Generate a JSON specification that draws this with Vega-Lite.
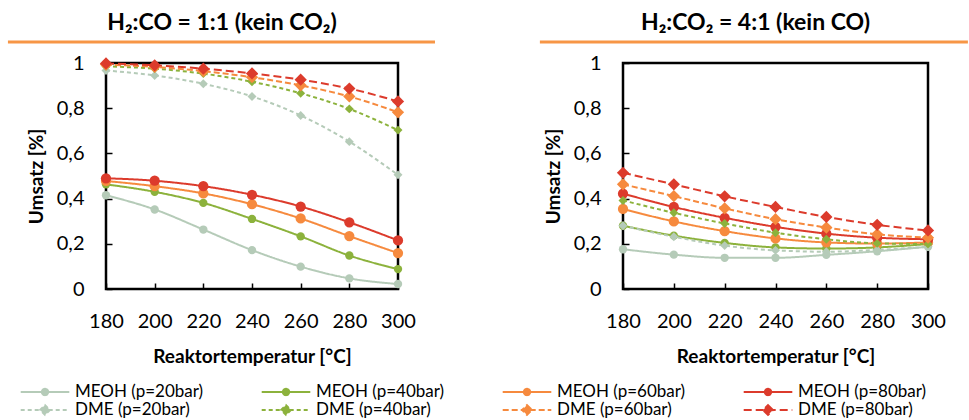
{
 "$schema": "https://vega.github.io/schema/vega-lite/v6.json",
 "background": "white",
 "padding": {"left": 5, "top": 11, "right": 5, "bottom": 0},
 "config": {
  "font": "Lato",
  "view": {"stroke": "black", "strokeWidth": 2.5},
  "axis": {"grid": false, "domain": false, "tickColor": "black", "tickWidth": 1.5, "tickSize": -6, "labelFont": "Lato", "labelFontSize": 20, "labelColor": "black", "titleFont": "Lato", "titleFontSize": 19, "titleFontWeight": "bold", "titleColor": "black", "labelFlush": false, "labelOverlap": false},
  "title": {"font": "Lato", "fontSize": 23, "fontWeight": "bold", "color": "black"},
  "legend": {"orient": "none", "legendX": -93, "legendY": 319, "direction": "horizontal", "columns": 4, "title": null, "labelFont": "Lato", "labelFontSize": 17, "labelColor": "black", "symbolSize": 324, "symbolOffset": 22, "labelOffset": 20, "columnPadding": 50, "rowPadding": 0},
  "concat": {"spacing": 99}
 },
 "data": {"values": [
  {"panel":"A","series":"MEOH (p=20bar)","T":180,"v":0.415},{"panel":"A","series":"MEOH (p=20bar)","T":200,"v":0.352},{"panel":"A","series":"MEOH (p=20bar)","T":220,"v":0.263},{"panel":"A","series":"MEOH (p=20bar)","T":240,"v":0.172},{"panel":"A","series":"MEOH (p=20bar)","T":260,"v":0.099},{"panel":"A","series":"MEOH (p=20bar)","T":280,"v":0.047},{"panel":"A","series":"MEOH (p=20bar)","T":300,"v":0.022},
  {"panel":"A","series":"MEOH (p=40bar)","T":180,"v":0.463},{"panel":"A","series":"MEOH (p=40bar)","T":200,"v":0.430},{"panel":"A","series":"MEOH (p=40bar)","T":220,"v":0.381},{"panel":"A","series":"MEOH (p=40bar)","T":240,"v":0.310},{"panel":"A","series":"MEOH (p=40bar)","T":260,"v":0.233},{"panel":"A","series":"MEOH (p=40bar)","T":280,"v":0.148},{"panel":"A","series":"MEOH (p=40bar)","T":300,"v":0.088},
  {"panel":"A","series":"MEOH (p=60bar)","T":180,"v":0.478},{"panel":"A","series":"MEOH (p=60bar)","T":200,"v":0.455},{"panel":"A","series":"MEOH (p=60bar)","T":220,"v":0.423},{"panel":"A","series":"MEOH (p=60bar)","T":240,"v":0.375},{"panel":"A","series":"MEOH (p=60bar)","T":260,"v":0.312},{"panel":"A","series":"MEOH (p=60bar)","T":280,"v":0.234},{"panel":"A","series":"MEOH (p=60bar)","T":300,"v":0.159},
  {"panel":"A","series":"MEOH (p=80bar)","T":180,"v":0.490},{"panel":"A","series":"MEOH (p=80bar)","T":200,"v":0.479},{"panel":"A","series":"MEOH (p=80bar)","T":220,"v":0.455},{"panel":"A","series":"MEOH (p=80bar)","T":240,"v":0.417},{"panel":"A","series":"MEOH (p=80bar)","T":260,"v":0.365},{"panel":"A","series":"MEOH (p=80bar)","T":280,"v":0.295},{"panel":"A","series":"MEOH (p=80bar)","T":300,"v":0.215},
  {"panel":"A","series":"DME (p=20bar)","T":180,"v":0.967},{"panel":"A","series":"DME (p=20bar)","T":200,"v":0.945},{"panel":"A","series":"DME (p=20bar)","T":220,"v":0.908},{"panel":"A","series":"DME (p=20bar)","T":240,"v":0.852},{"panel":"A","series":"DME (p=20bar)","T":260,"v":0.768},{"panel":"A","series":"DME (p=20bar)","T":280,"v":0.652},{"panel":"A","series":"DME (p=20bar)","T":300,"v":0.505},
  {"panel":"A","series":"DME (p=40bar)","T":180,"v":0.985},{"panel":"A","series":"DME (p=40bar)","T":200,"v":0.975},{"panel":"A","series":"DME (p=40bar)","T":220,"v":0.953},{"panel":"A","series":"DME (p=40bar)","T":240,"v":0.917},{"panel":"A","series":"DME (p=40bar)","T":260,"v":0.866},{"panel":"A","series":"DME (p=40bar)","T":280,"v":0.797},{"panel":"A","series":"DME (p=40bar)","T":300,"v":0.703},
  {"panel":"A","series":"DME (p=60bar)","T":180,"v":0.993},{"panel":"A","series":"DME (p=60bar)","T":200,"v":0.983},{"panel":"A","series":"DME (p=60bar)","T":220,"v":0.964},{"panel":"A","series":"DME (p=60bar)","T":240,"v":0.937},{"panel":"A","series":"DME (p=60bar)","T":260,"v":0.901},{"panel":"A","series":"DME (p=60bar)","T":280,"v":0.852},{"panel":"A","series":"DME (p=60bar)","T":300,"v":0.782},
  {"panel":"A","series":"DME (p=80bar)","T":180,"v":0.998},{"panel":"A","series":"DME (p=80bar)","T":200,"v":0.990},{"panel":"A","series":"DME (p=80bar)","T":220,"v":0.975},{"panel":"A","series":"DME (p=80bar)","T":240,"v":0.954},{"panel":"A","series":"DME (p=80bar)","T":260,"v":0.926},{"panel":"A","series":"DME (p=80bar)","T":280,"v":0.887},{"panel":"A","series":"DME (p=80bar)","T":300,"v":0.830},
  {"panel":"B","series":"MEOH (p=20bar)","T":180,"v":0.176},{"panel":"B","series":"MEOH (p=20bar)","T":200,"v":0.152},{"panel":"B","series":"MEOH (p=20bar)","T":220,"v":0.138},{"panel":"B","series":"MEOH (p=20bar)","T":240,"v":0.138},{"panel":"B","series":"MEOH (p=20bar)","T":260,"v":0.151},{"panel":"B","series":"MEOH (p=20bar)","T":280,"v":0.167},{"panel":"B","series":"MEOH (p=20bar)","T":300,"v":0.187},
  {"panel":"B","series":"MEOH (p=40bar)","T":180,"v":0.280},{"panel":"B","series":"MEOH (p=40bar)","T":200,"v":0.236},{"panel":"B","series":"MEOH (p=40bar)","T":220,"v":0.204},{"panel":"B","series":"MEOH (p=40bar)","T":240,"v":0.184},{"panel":"B","series":"MEOH (p=40bar)","T":260,"v":0.179},{"panel":"B","series":"MEOH (p=40bar)","T":280,"v":0.184},{"panel":"B","series":"MEOH (p=40bar)","T":300,"v":0.199},
  {"panel":"B","series":"MEOH (p=60bar)","T":180,"v":0.354},{"panel":"B","series":"MEOH (p=60bar)","T":200,"v":0.299},{"panel":"B","series":"MEOH (p=60bar)","T":220,"v":0.256},{"panel":"B","series":"MEOH (p=60bar)","T":240,"v":0.224},{"panel":"B","series":"MEOH (p=60bar)","T":260,"v":0.206},{"panel":"B","series":"MEOH (p=60bar)","T":280,"v":0.201},{"panel":"B","series":"MEOH (p=60bar)","T":300,"v":0.206},
  {"panel":"B","series":"MEOH (p=80bar)","T":180,"v":0.422},{"panel":"B","series":"MEOH (p=80bar)","T":200,"v":0.363},{"panel":"B","series":"MEOH (p=80bar)","T":220,"v":0.315},{"panel":"B","series":"MEOH (p=80bar)","T":240,"v":0.275},{"panel":"B","series":"MEOH (p=80bar)","T":260,"v":0.245},{"panel":"B","series":"MEOH (p=80bar)","T":280,"v":0.227},{"panel":"B","series":"MEOH (p=80bar)","T":300,"v":0.220},
  {"panel":"B","series":"DME (p=20bar)","T":180,"v":0.280},{"panel":"B","series":"DME (p=20bar)","T":200,"v":0.231},{"panel":"B","series":"DME (p=20bar)","T":220,"v":0.192},{"panel":"B","series":"DME (p=20bar)","T":240,"v":0.171},{"panel":"B","series":"DME (p=20bar)","T":260,"v":0.165},{"panel":"B","series":"DME (p=20bar)","T":280,"v":0.173},{"panel":"B","series":"DME (p=20bar)","T":300,"v":0.187},
  {"panel":"B","series":"DME (p=40bar)","T":180,"v":0.392},{"panel":"B","series":"DME (p=40bar)","T":200,"v":0.337},{"panel":"B","series":"DME (p=40bar)","T":220,"v":0.290},{"panel":"B","series":"DME (p=40bar)","T":240,"v":0.249},{"panel":"B","series":"DME (p=40bar)","T":260,"v":0.220},{"panel":"B","series":"DME (p=40bar)","T":280,"v":0.202},{"panel":"B","series":"DME (p=40bar)","T":300,"v":0.199},
  {"panel":"B","series":"DME (p=60bar)","T":180,"v":0.463},{"panel":"B","series":"DME (p=60bar)","T":200,"v":0.411},{"panel":"B","series":"DME (p=60bar)","T":220,"v":0.357},{"panel":"B","series":"DME (p=60bar)","T":240,"v":0.309},{"panel":"B","series":"DME (p=60bar)","T":260,"v":0.272},{"panel":"B","series":"DME (p=60bar)","T":280,"v":0.242},{"panel":"B","series":"DME (p=60bar)","T":300,"v":0.227},
  {"panel":"B","series":"DME (p=80bar)","T":180,"v":0.514},{"panel":"B","series":"DME (p=80bar)","T":200,"v":0.463},{"panel":"B","series":"DME (p=80bar)","T":220,"v":0.410},{"panel":"B","series":"DME (p=80bar)","T":240,"v":0.363},{"panel":"B","series":"DME (p=80bar)","T":260,"v":0.319},{"panel":"B","series":"DME (p=80bar)","T":280,"v":0.284},{"panel":"B","series":"DME (p=80bar)","T":300,"v":0.259}
 ]},
 "hconcat": [
  {
   "width": 292, "height": 226,
   "title": {"text": "H₂:CO = 1:1 (kein CO₂)", "dx": -30, "offset": 5},
   "layer": [
    {
     "transform": [{"filter": "datum.panel == 'A'"}],
     "mark": {"type": "line", "interpolate": "monotone"},
     "encoding": {
      "x": {"field": "T", "type": "quantitative", "scale": {"domain": [180, 300], "nice": false, "zero": false}, "axis": {"title": "Reaktortemperatur [°C]", "values": [180,185,190,195,200,205,210,215,220,225,230,235,240,245,250,255,260,265,270,275,280,285,290,295,300], "labelExpr": "datum.value % 20 == 0 ? datum.label : ''", "labelPadding": 28, "titlePadding": 16}},
      "y": {"field": "v", "type": "quantitative", "scale": {"domain": [0, 1], "nice": false}, "axis": {"title": "Umsatz [%]", "values": [0,0.05,0.1,0.15,0.2,0.25,0.3,0.35,0.4,0.45,0.5,0.55,0.6,0.65,0.7,0.75,0.8,0.85,0.9,0.95,1], "labelExpr": "abs(datum.value*5 - round(datum.value*5)) < 0.001 ? replace(format(datum.value, '.1~f'), '.', ',') : ''", "labelPadding": 28, "titlePadding": 10}},
      "stroke": {"field": "series", "type": "nominal",
       "scale": {"domain": ["MEOH (p=20bar)","MEOH (p=40bar)","MEOH (p=60bar)","MEOH (p=80bar)","DME (p=20bar)","DME (p=40bar)","DME (p=60bar)","DME (p=80bar)"], "range": ["#B5CBB8","#8CB23C","#F68A3E","#DC3B2C","#B5CBB8","#8CB23C","#F68A3E","#DC3B2C"]},
       "legend": {"symbolType": {"expr": "indexof(datum.value, 'DME') == 0 ? 'M-2.7,0H2.7M0,-0.55L0.55,0L0,0.55L-0.55,0Z' : 'M-2.7,0H2.7M-0.35,0A0.35,0.35,0,1,1,0.35,0A0.35,0.35,0,1,1,-0.35,0Z'"}}},
      "strokeDash": {"field": "series", "type": "nominal", "scale": {"domain": ["MEOH (p=20bar)","MEOH (p=40bar)","MEOH (p=60bar)","MEOH (p=80bar)","DME (p=20bar)","DME (p=40bar)","DME (p=60bar)","DME (p=80bar)"], "range": [[1,0],[1,0],[1,0],[1,0],[4,3],[4,3],[6,3],[8,4]]}},
      "strokeWidth": {"field": "series", "type": "ordinal", "scale": {"domain": ["MEOH (p=20bar)","MEOH (p=40bar)","MEOH (p=60bar)","MEOH (p=80bar)","DME (p=20bar)","DME (p=40bar)","DME (p=60bar)","DME (p=80bar)"], "range": [2,2,3,4,2,2,3,4]}}
     }
    },
    {
     "transform": [{"filter": "datum.panel == 'A' && indexof(datum.series, 'MEOH') == 0 && (indexof(datum.series, '20bar') > 0 || indexof(datum.series, '40bar') > 0)"}],
     "mark": {"type": "point", "filled": true, "opacity": 1, "shape": "circle", "size": 70},
     "encoding": {
      "x": {"field": "T", "type": "quantitative"},
      "y": {"field": "v", "type": "quantitative"},
      "fill": {"field": "series", "type": "nominal", "scale": {"domain": ["MEOH (p=20bar)","MEOH (p=40bar)","MEOH (p=60bar)","MEOH (p=80bar)","DME (p=20bar)","DME (p=40bar)","DME (p=60bar)","DME (p=80bar)"], "range": ["#B5CBB8","#8CB23C","#F68A3E","#DC3B2C","#B5CBB8","#8CB23C","#F68A3E","#DC3B2C"]}}
     }
    },
    {
     "transform": [{"filter": "datum.panel == 'A' && indexof(datum.series, 'MEOH') == 0 && (indexof(datum.series, '60bar') > 0 || indexof(datum.series, '80bar') > 0)"}],
     "mark": {"type": "point", "filled": true, "opacity": 1, "shape": "circle", "size": 105},
     "encoding": {"x": {"field": "T", "type": "quantitative"}, "y": {"field": "v", "type": "quantitative"}, "fill": {"field": "series", "type": "nominal"}}
    },
    {
     "transform": [{"filter": "datum.panel == 'A' && indexof(datum.series, 'DME') == 0 && (indexof(datum.series, '20bar') > 0 || indexof(datum.series, '40bar') > 0)"}],
     "mark": {"type": "point", "filled": true, "opacity": 1, "shape": "diamond", "size": 80},
     "encoding": {"x": {"field": "T", "type": "quantitative"}, "y": {"field": "v", "type": "quantitative"}, "fill": {"field": "series", "type": "nominal"}}
    },
    {
     "transform": [{"filter": "datum.panel == 'A' && indexof(datum.series, 'DME') == 0 && (indexof(datum.series, '60bar') > 0 || indexof(datum.series, '80bar') > 0)"}],
     "mark": {"type": "point", "filled": true, "opacity": 1, "shape": "diamond", "size": 150},
     "encoding": {"x": {"field": "T", "type": "quantitative"}, "y": {"field": "v", "type": "quantitative"}, "fill": {"field": "series", "type": "nominal"}}
    },
    {
     "data": {"values": [{}]},
     "mark": {"type": "rule", "color": "#F79646", "strokeWidth": 3, "clip": false},
     "encoding": {"x": {"datum": 139.7, "type": "quantitative"}, "x2": {"datum": 315.2}, "y": {"datum": 1.093, "type": "quantitative"}}
    }
   ]
  },
  {
   "width": 305, "height": 226,
   "title": {"text": "H₂:CO₂ = 4:1 (kein CO)", "dx": -20, "offset": 5},
   "layer": [
    {
     "transform": [{"filter": "datum.panel == 'B'"}],
     "mark": {"type": "line", "interpolate": "monotone"},
     "encoding": {
      "x": {"field": "T", "type": "quantitative", "scale": {"domain": [180, 300], "nice": false, "zero": false}, "axis": {"title": "Reaktortemperatur [°C]", "values": [180,185,190,195,200,205,210,215,220,225,230,235,240,245,250,255,260,265,270,275,280,285,290,295,300], "labelExpr": "datum.value % 20 == 0 ? datum.label : ''", "labelPadding": 28, "titlePadding": 16}},
      "y": {"field": "v", "type": "quantitative", "scale": {"domain": [0, 1], "nice": false}, "axis": {"title": "Umsatz [%]", "values": [0,0.05,0.1,0.15,0.2,0.25,0.3,0.35,0.4,0.45,0.5,0.55,0.6,0.65,0.7,0.75,0.8,0.85,0.9,0.95,1], "labelExpr": "abs(datum.value*5 - round(datum.value*5)) < 0.001 ? replace(format(datum.value, '.1~f'), '.', ',') : ''", "labelPadding": 28, "titlePadding": 10}},
      "stroke": {"field": "series", "type": "nominal"},
      "strokeDash": {"field": "series", "type": "nominal"},
      "strokeWidth": {"field": "series", "type": "ordinal"}
     }
    },
    {
     "transform": [{"filter": "datum.panel == 'B' && indexof(datum.series, 'MEOH') == 0 && (indexof(datum.series, '20bar') > 0 || indexof(datum.series, '40bar') > 0)"}],
     "mark": {"type": "point", "filled": true, "opacity": 1, "shape": "circle", "size": 70},
     "encoding": {"x": {"field": "T", "type": "quantitative"}, "y": {"field": "v", "type": "quantitative"}, "fill": {"field": "series", "type": "nominal"}}
    },
    {
     "transform": [{"filter": "datum.panel == 'B' && indexof(datum.series, 'MEOH') == 0 && (indexof(datum.series, '60bar') > 0 || indexof(datum.series, '80bar') > 0)"}],
     "mark": {"type": "point", "filled": true, "opacity": 1, "shape": "circle", "size": 105},
     "encoding": {"x": {"field": "T", "type": "quantitative"}, "y": {"field": "v", "type": "quantitative"}, "fill": {"field": "series", "type": "nominal"}}
    },
    {
     "transform": [{"filter": "datum.panel == 'B' && indexof(datum.series, 'DME') == 0 && (indexof(datum.series, '20bar') > 0 || indexof(datum.series, '40bar') > 0)"}],
     "mark": {"type": "point", "filled": true, "opacity": 1, "shape": "diamond", "size": 80},
     "encoding": {"x": {"field": "T", "type": "quantitative"}, "y": {"field": "v", "type": "quantitative"}, "fill": {"field": "series", "type": "nominal"}}
    },
    {
     "transform": [{"filter": "datum.panel == 'B' && indexof(datum.series, 'DME') == 0 && (indexof(datum.series, '60bar') > 0 || indexof(datum.series, '80bar') > 0)"}],
     "mark": {"type": "point", "filled": true, "opacity": 1, "shape": "diamond", "size": 150},
     "encoding": {"x": {"field": "T", "type": "quantitative"}, "y": {"field": "v", "type": "quantitative"}, "fill": {"field": "series", "type": "nominal"}}
    },
    {
     "data": {"values": [{}]},
     "mark": {"type": "rule", "color": "#F79646", "strokeWidth": 3, "clip": false},
     "encoding": {"x": {"datum": 147.3, "type": "quantitative"}, "x2": {"datum": 315.7}, "y": {"datum": 1.093, "type": "quantitative"}}
    }
   ]
  }
 ]
}
